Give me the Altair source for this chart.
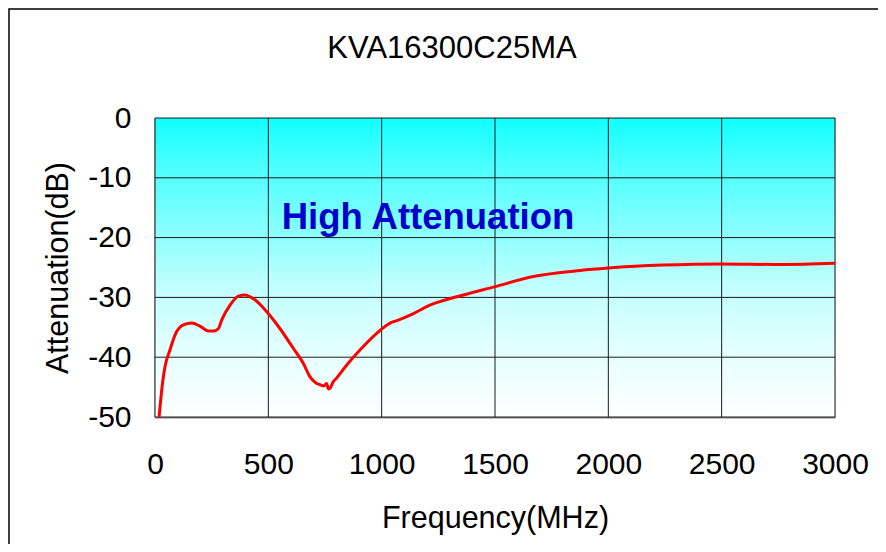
import altair as alt
import pandas as pd

# ---- data ----
freq_mhz = [18, 35, 44, 66, 88, 125, 162, 198, 235, 260, 280, 294, 331, 368, 397, 420,
            441, 493, 551, 610, 654, 684, 710, 728, 745, 757, 765, 772, 785, 801, 846,
            904, 978, 1037, 1073, 1140, 1213, 1331, 1500, 1669, 1875, 2000, 2243, 2500,
            2757, 3000]
atten_db = [-50, -43.8, -41.6, -38.8, -36.3, -34.6, -34.3, -34.8, -35.6, -35.6, -35.2,
            -33.8, -31.3, -29.8, -29.6, -29.9, -30.4, -32.4, -35.2, -38.5, -41.0, -43.3,
            -44.3, -44.6, -44.8, -44.4, -45.3, -45.2, -44.2, -43.5, -41.3, -38.8, -36.0,
            -34.3, -33.8, -32.7, -31.3, -29.9, -28.2, -26.5, -25.5, -25.1, -24.6, -24.4,
            -24.5, -24.3]
x_ticks = [0, 500, 1000, 1500, 2000, 2500, 3000]
y_ticks = [-50, -40, -30, -20, -10, 0]
title_text = "KVA16300C25MA"
note_text = "High Attenuation"

W, H = 680, 299
FONT = "Liberation Sans"

curve = pd.DataFrame({"f": freq_mhz, "a": atten_db})
xs = alt.Scale(domain=[0, 3000], nice=False)
ys = alt.Scale(domain=[-50, 0], nice=False)

one = alt.Data(values=[{}])

gradient = alt.LinearGradient(
    gradient="linear", x1=0, x2=0, y1=0, y2=1,
    stops=[
        alt.GradientStop(offset=0, color="#10FFFF"),
        alt.GradientStop(offset=0.15, color="#48FFFF"),
        alt.GradientStop(offset=0.35, color="#80FFFF"),
        alt.GradientStop(offset=0.55, color="#BEFFFF"),
        alt.GradientStop(offset=0.75, color="#E0FFFF"),
        alt.GradientStop(offset=1, color="#FFFFFF"),
    ],
)

bg = alt.Chart(one).mark_rect(color=gradient).encode(
    x=alt.value(0), x2=alt.value(W), y=alt.value(0), y2=alt.value(H)
)

frame = alt.Chart(one).mark_rect(fillOpacity=0, stroke="black", strokeWidth=1.5).encode(
    x=alt.value(-146), x2=alt.value(800), y=alt.value(-109), y2=alt.value(600)
)

vgrid = alt.Chart(pd.DataFrame({"f": x_ticks})).mark_rule(color="#1a1a1a", strokeWidth=1).encode(
    x=alt.X("f:Q", scale=xs)
)
hgrid = alt.Chart(pd.DataFrame({"a": y_ticks})).mark_rule(color="#1a1a1a", strokeWidth=1).encode(
    y=alt.Y("a:Q", scale=ys)
)

line = alt.Chart(curve).mark_line(color="#FF0000", strokeWidth=3, interpolate="monotone").encode(
    x=alt.X(
        "f:Q", scale=xs,
        axis=alt.Axis(
            values=x_ticks, grid=False, ticks=False, tickSize=0, labelFontSize=30,
            labelFont=FONT, labelColor="black", labelBaseline="alphabetic", labelPadding=56,
            labelFlush=False, labelOverlap=False, labelExpr="'' + datum.value",
            domainColor="#808080", domainWidth=2,
            title="Frequency(MHz)", titleFont=FONT, titleFontSize=30.5, titleFontWeight="normal",
            titleColor="black", titleBaseline="alphabetic", titleAlign="center",
            titleX=W / 2, titleY=110,
        ),
    ),
    y=alt.Y(
        "a:Q", scale=ys,
        axis=alt.Axis(
            values=y_ticks, grid=False, ticks=False, tickSize=0, labelFontSize=30,
            labelFont=FONT, labelColor="black", labelBaseline="middle", labelPadding=24,
            labelFlush=False, labelOverlap=False,
            labelExpr="datum.value < 0 ? '-' + abs(datum.value) : '' + datum.value",
            domainColor="black", domainWidth=1.5,
            title="Attenuation(dB)", titleFont=FONT, titleFontSize=30.5, titleFontWeight="normal",
            titleColor="black", titleBaseline="alphabetic", titleAlign="center",
            titleAngle=270, titleX=-88, titleY=H / 2,
        ),
    ),
)

title = alt.Chart(pd.DataFrame({"t": [title_text]})).mark_text(
    font=FONT, fontSize=31, color="black", align="center", baseline="alphabetic"
).encode(text="t:N", x=alt.value(297), y=alt.value(-60))

note = alt.Chart(pd.DataFrame({"t": [note_text]})).mark_text(
    font=FONT, fontSize=36.5, fontWeight="bold", color="#0000CC", align="center",
    baseline="alphabetic"
).encode(text="t:N", x=alt.value(273), y=alt.value(111))

chart = alt.layer(bg, frame, vgrid, hgrid, line, title, note).properties(
    width=W, height=H,
    autosize=alt.AutoSizeParams(type="none"),
    padding={"left": 147, "top": 110, "right": 43, "bottom": 127},
).configure_view(stroke="#808080", strokeWidth=2).configure(background="white")

chart.save("out.html", embed_options={"renderer": "svg", "actions": False})
